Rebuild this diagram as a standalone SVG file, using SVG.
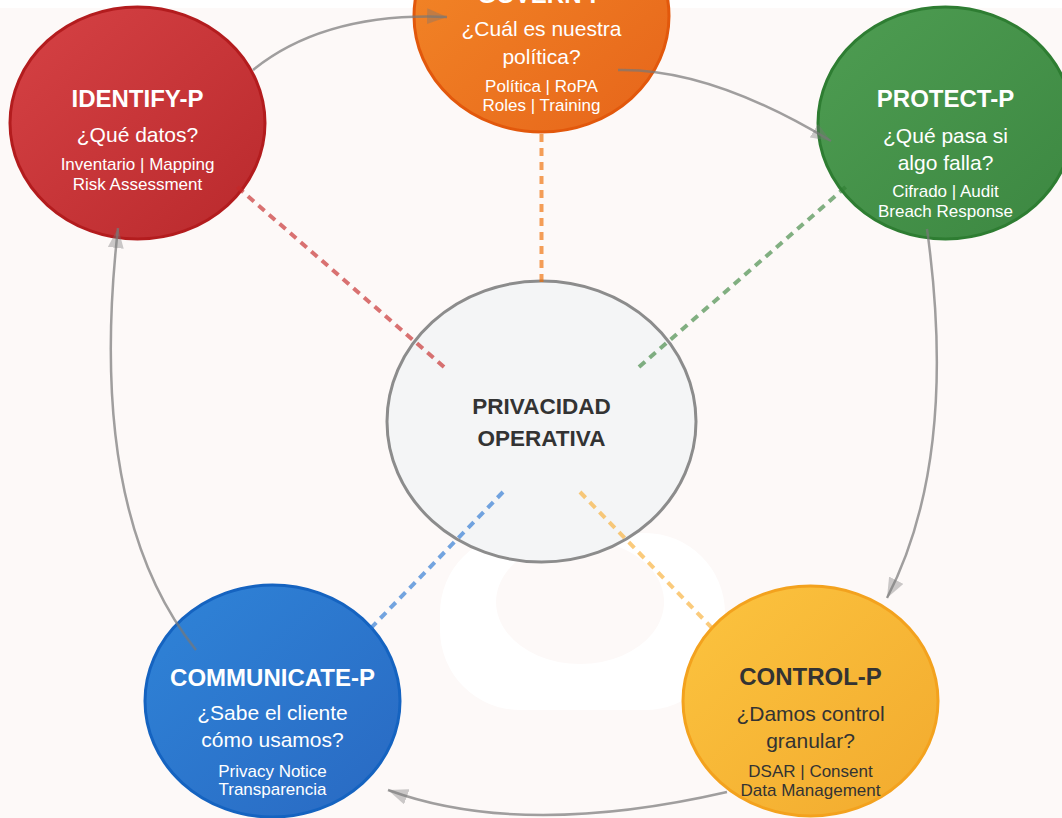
<svg xmlns="http://www.w3.org/2000/svg" width="1062" height="818" viewBox="0 0 1062 818">
  <style>
    text { font-family: "Liberation Sans", Arial, Helvetica, sans-serif; text-anchor: middle; }
    .title { font-size: 24px; font-weight: bold; }
    .q { font-size: 21px; }
    .d { font-size: 17px; }
    .light { fill: #ffffff; }
    .dark { fill: #333333; }
    .core { font-size: 22.5px; font-weight: bold; fill: #333333; }
    .node { stroke-width: 3; }
    .spoke { fill: none; stroke-width: 4; stroke-dasharray: 8 6; }
    .flow { fill: none; stroke: #777777; stroke-opacity: 0.7; stroke-width: 2.5; marker-end: url(#arrow); }
  </style>
  <defs>
    <marker id="arrow" markerUnits="userSpaceOnUse" markerWidth="20" markerHeight="16" viewBox="0 0 20 16" refX="20" refY="8" orient="auto">
      <path d="M0,0 L20,8 L0,16 z" fill="#777777" fill-opacity="0.38"/>
    </marker>
    <linearGradient id="gRed" x1="0" y1="0" x2="1" y2="1">
      <stop offset="0" stop-color="#d64245"/>
      <stop offset="1" stop-color="#b9292c"/>
    </linearGradient>
    <linearGradient id="gOrange" x1="0" y1="0" x2="1" y2="1">
      <stop offset="0" stop-color="#f48a28"/>
      <stop offset="1" stop-color="#e6641a"/>
    </linearGradient>
    <linearGradient id="gGreen" x1="0" y1="0" x2="1" y2="1">
      <stop offset="0" stop-color="#4e9d52"/>
      <stop offset="1" stop-color="#3c8741"/>
    </linearGradient>
    <linearGradient id="gBlue" x1="0" y1="0" x2="1" y2="1">
      <stop offset="0" stop-color="#2f84d8"/>
      <stop offset="1" stop-color="#2969c2"/>
    </linearGradient>
    <linearGradient id="gYellow" x1="0" y1="0" x2="1" y2="1">
      <stop offset="0" stop-color="#fcc43f"/>
      <stop offset="1" stop-color="#f2aa2e"/>
    </linearGradient>
  </defs>

  <!-- canvas -->
  <rect x="0" y="0" width="1062" height="818" fill="#ffffff"/>
  <rect x="0" y="8" width="1062" height="810" fill="#fdf9f8"/>

  <!-- faint backdrop emblem -->
  <path d="M520,533 H645 A80,80 0 0 1 725,613 V630 A80,80 0 0 1 645,710 H520 A80,80 0 0 1 440,630 V613 A80,80 0 0 1 520,533 Z M580,540 A84,62 0 1 0 580.1,540 Z" fill="#ffffff" fill-rule="evenodd"/>

  <!-- central hub -->
  <g id="core">
    <ellipse cx="541.5" cy="421.5" rx="154.5" ry="140.5" fill="#f4f5f6" stroke="#8c8c8c" stroke-width="3"/>
    <text class="core" x="541.5" y="414">PRIVACIDAD</text>
    <text class="core" x="541.5" y="446">OPERATIVA</text>
  </g>

  <g id="identify">
    <ellipse class="node" cx="137.5" cy="123" rx="127.5" ry="116" fill="url(#gRed)" stroke="#b31c1e"/>
    <text class="title light" x="137.5" y="107">IDENTIFY-P</text>
    <text class="q light" x="137.5" y="142">¿Qué datos?</text>
    <text class="d light" x="137.5" y="170">Inventario | Mapping</text>
    <text class="d light" x="137.5" y="190">Risk Assessment</text>
  </g>

  <g id="govern">
    <ellipse class="node" cx="541.5" cy="16" rx="127.5" ry="116" fill="url(#gOrange)" stroke="#e2580c"/>
    <text class="title light" x="541.5" y="3">GOVERN-P</text>
    <text class="q light" x="541.5" y="36">¿Cuál es nuestra</text>
    <text class="q light" x="541.5" y="64">política?</text>
    <text class="d light" x="541.5" y="92">Política | RoPA</text>
    <text class="d light" x="541.5" y="111">Roles | Training</text>
  </g>

  <g id="protect">
    <ellipse class="node" cx="945.5" cy="123" rx="127.5" ry="116" fill="url(#gGreen)" stroke="#2e7d32"/>
    <text class="title light" x="945.5" y="107">PROTECT-P</text>
    <text class="q light" x="945.5" y="143">¿Qué pasa si</text>
    <text class="q light" x="945.5" y="170">algo falla?</text>
    <text class="d light" x="945.5" y="197">Cifrado | Audit</text>
    <text class="d light" x="945.5" y="217">Breach Response</text>
  </g>

  <g id="communicate">
    <ellipse class="node" cx="272.5" cy="701" rx="127.5" ry="116" fill="url(#gBlue)" stroke="#1563c0"/>
    <text class="title light" x="272.5" y="686">COMMUNICATE-P</text>
    <text class="q light" x="272.5" y="720">¿Sabe el cliente</text>
    <text class="q light" x="272.5" y="747">cómo usamos?</text>
    <text class="d light" x="272.5" y="777">Privacy Notice</text>
    <text class="d light" x="272.5" y="795">Transparencia</text>
  </g>

  <g id="control">
    <ellipse class="node" cx="810.5" cy="701" rx="127.5" ry="115" fill="url(#gYellow)" stroke="#f3a21e"/>
    <text class="title dark" x="810.5" y="685">CONTROL-P</text>
    <text class="q dark" x="810.5" y="721">¿Damos control</text>
    <text class="q dark" x="810.5" y="748">granular?</text>
    <text class="d dark" x="810.5" y="777">DSAR | Consent</text>
    <text class="d dark" x="810.5" y="796">Data Management</text>
  </g>

  <!-- hub spokes -->
  <g id="spokes">
    <line class="spoke" x1="444" y1="367" x2="235" y2="185" stroke="#c62828" stroke-opacity="0.65"/>
    <line class="spoke" x1="541.5" y1="282" x2="541.5" y2="131" stroke="#ef6c00" stroke-opacity="0.65"/>
    <line class="spoke" x1="639" y1="367" x2="848" y2="185" stroke="#2e7d32" stroke-opacity="0.6"/>
    <line class="spoke" x1="503" y1="492" x2="369" y2="630" stroke="#1e6fd0" stroke-opacity="0.62"/>
    <line class="spoke" x1="580" y1="492" x2="714" y2="630" stroke="#f9a825" stroke-opacity="0.6"/>
  </g>

  <!-- cycle connectors -->
  <g id="connectors">
    <path class="flow" d="M253,70 Q325,12 447,17"/>
    <path class="flow" d="M618,70 Q710,68 831,141"/>
    <path class="flow" d="M927,229 Q959,459 887,598"/>
    <path class="flow" d="M727,792 Q522,839 388,790"/>
    <path class="flow" d="M196,650 Q86,513 118,228"/>
  </g>
</svg>
